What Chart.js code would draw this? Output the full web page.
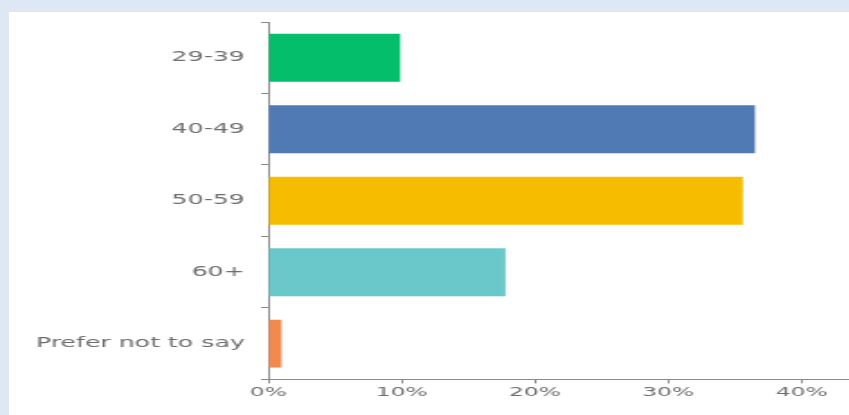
<!DOCTYPE html>
<html lang="en">

<head>
    <meta charset="UTF-8">
    <title>Age groups</title>
    <script src="https://cdn.jsdelivr.net/npm/chart.js"></script>
    <style>
        html, body { margin: 0; padding: 0; background: #dde8f4; overflow: hidden; }
        .panel { position: absolute; left: 9px; top: 12px; width: 840px; height: 403px; background: #fff; overflow: hidden; }
        /* the source picture is stretched sideways, so the chart is drawn narrow and widened */
        .stretch { width: 467px; height: 403px; transform: scaleX(1.8); transform-origin: 0 0; }
    </style>
</head>

<body>
    <div class="panel">
        <div class="stretch">
            <canvas id="ageChart"></canvas>
        </div>
    </div>

    <script>
        const ageGroups = ['29-39', '40-49', '50-59', '60+', 'Prefer not to say'];
        const shares = [9.9, 36.5, 35.6, 17.8, 1.0];
        const barColours = ['#04be6c', '#4f7ab4', '#f6bd00', '#6bc8ca', '#f28a4f'];
        const xTicks = [0, 10, 20, 30, 40];

        const ctx = document.getElementById('ageChart').getContext('2d');
        new Chart(ctx, {
            type: 'bar',
            data: {
                labels: ageGroups,
                datasets: [{
                    data: shares,
                    backgroundColor: barColours,
                    borderWidth: 0,
                    categoryPercentage: 1,
                    barPercentage: 0.67
                }]
            },
            options: {
                indexAxis: 'y',
                responsive: true,
                maintainAspectRatio: false,
                animation: false,
                layout: { padding: { left: 14, top: 10, right: 0, bottom: 14 } },
                plugins: {
                    legend: { display: false },
                    tooltip: { enabled: false }
                },
                scales: {
                    x: {
                        min: 0,
                        max: 43.6,
                        afterBuildTicks: s => { s.ticks = xTicks.map(v => ({ value: v })); },
                        border: { display: true, color: '#8a8a8a', width: 1 },
                        grid: { drawOnChartArea: false, drawTicks: true, tickLength: 4, color: '#8a8a8a' },
                        ticks: {
                            padding: 1,
                            color: '#6e6e6e',
                            font: { family: 'DejaVu Sans', size: 13 },
                            callback: v => v + '%'
                        }
                    },
                    y: {
                        // fixed width, and no extra room above/below for the labels
                        afterFit: s => { s.width = 130; s.paddingTop = 0; s.paddingBottom = 0; },
                        border: { display: true, color: '#8a8a8a', width: 1 },
                        grid: { drawOnChartArea: false, drawTicks: true, tickLength: 4, color: '#8a8a8a' },
                        ticks: {
                            padding: 9,
                            color: '#6e6e6e',
                            font: { family: 'DejaVu Sans', size: 14 }
                        }
                    }
                }
            }
        });
    </script>
</body>

</html>
